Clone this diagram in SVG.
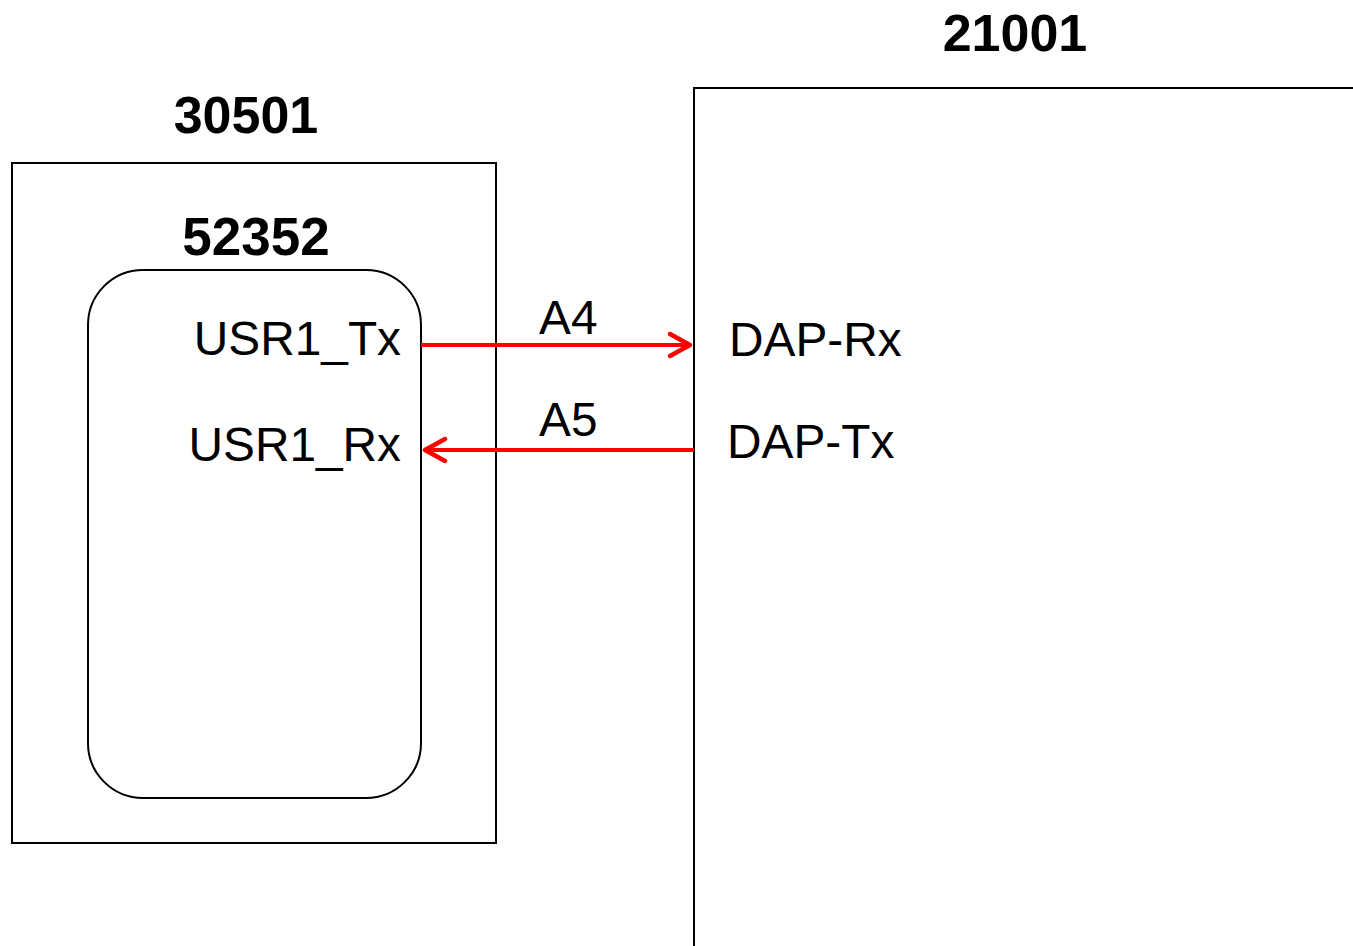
<svg xmlns="http://www.w3.org/2000/svg" width="1353" height="946" viewBox="0 0 1353 946">
<style>
.box{fill:#fff;stroke:#000;stroke-width:2}
.title{font-family:"Liberation Sans",Arial,sans-serif;font-weight:bold;font-size:52px;fill:#000}
.lbl{font-family:"Liberation Sans",Arial,sans-serif;font-size:47.8px;fill:#000}
.conn{stroke:#f00;stroke-width:4;fill:none}
</style>
<defs>
<marker id="arr" viewBox="0 0 30 30" refX="25" refY="15" markerWidth="30" markerHeight="30" markerUnits="userSpaceOnUse" orient="auto">
<path d="M5,4 L25,15 L5,26" fill="none" stroke="#f00" stroke-width="4.5" stroke-linecap="round" stroke-linejoin="round"/>
</marker>
</defs>
<rect width="1353" height="946" fill="#fff"/>
<g id="n30501">
<rect class="box" x="12" y="163" width="484" height="680"/>
<text class="title" x="246" y="133" text-anchor="middle">30501</text>
</g>
<g id="n52352">
<rect class="box" x="88" y="270" width="333" height="528" rx="55" ry="55"/>
<text class="title" x="256" y="255" text-anchor="middle" style="font-size:53px">52352</text>
<text class="lbl" x="401" y="355" text-anchor="end">USR1_Tx</text>
<text class="lbl" x="401" y="461" text-anchor="end">USR1_Rx</text>
</g>
<g id="n21001">
<rect class="box" x="694" y="88" width="700" height="900"/>
<text class="title" x="1015" y="51" text-anchor="middle">21001</text>
<text class="lbl" x="729" y="356">DAP-Rx</text>
<text class="lbl" x="727" y="458">DAP-Tx</text>
</g>
<g id="connectors">
<line class="conn" x1="421" y1="345" x2="690" y2="345" marker-end="url(#arr)"/>
<text class="lbl" x="539" y="334">A4</text>
<line class="conn" x1="694" y1="450" x2="425" y2="450" marker-end="url(#arr)"/>
<text class="lbl" x="539" y="436">A5</text>
</g>
</svg>
